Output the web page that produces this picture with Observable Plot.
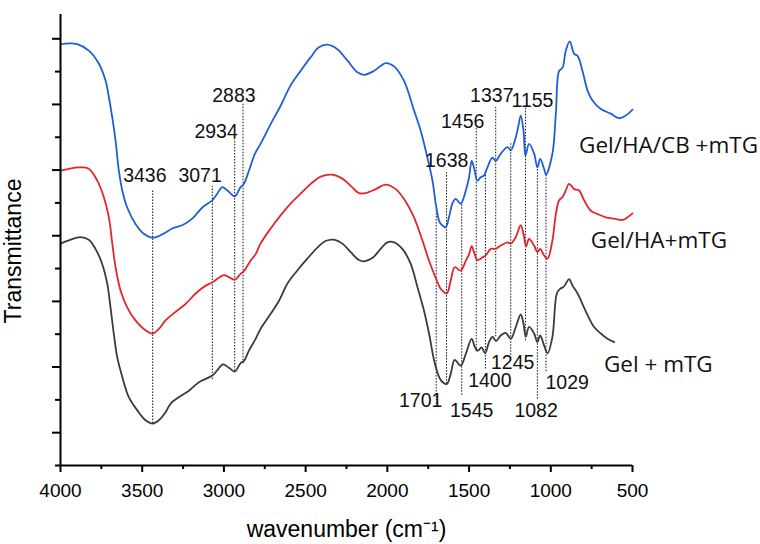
<!DOCTYPE html>
<html><head><meta charset="utf-8">
<script src="https://cdn.jsdelivr.net/npm/d3@7"></script>
<script src="https://cdn.jsdelivr.net/npm/@observablehq/plot@0.6"></script>
<style>body{margin:0;background:#fff}</style>
</head><body><div id="chart"></div>
<script>
// Series: [wavenumber (cm-1), transmittance (a.u., offset)]
const gelHaCbMtg = [[4000,5.92],[3898,5.92],[3827,5.82],[3765,5.62],[3724,5.36],[3704,5.11],[3683,4.80],[3663,4.45],[3643,3.99],[3622,3.69],[3592,3.43],[3541,3.18],[3490,3.03],[3436,2.97],[3377,3.02],[3316,3.11],[3255,3.16],[3194,3.26],[3132,3.43],[3071,3.54],[3041,3.64],[3010,3.74],[2979,3.69],[2934,3.60],[2898,3.74],[2878,3.79],[2847,3.99],[2810,4.25],[2776,4.40],[2714,4.70],[2653,4.98],[2592,5.29],[2531,5.51],[2469,5.72],[2419,5.87],[2367,5.91],[2306,5.84],[2245,5.67],[2183,5.49],[2143,5.45],[2082,5.51],[2010,5.63],[1959,5.58],[1898,5.36],[1837,4.91],[1796,4.60],[1755,4.19],[1724,3.84],[1704,3.49],[1684,3.23],[1673,3.18],[1643,3.13],[1623,3.28],[1602,3.49],[1582,3.56],[1551,3.49],[1520,3.69],[1500,3.89],[1484,4.14],[1470,4.04],[1449,3.84],[1429,3.89],[1408,3.92],[1388,4.04],[1357,4.19],[1337,4.14],[1306,4.25],[1265,4.35],[1245,4.30],[1214,4.50],[1200,4.65],[1184,4.83],[1167,4.60],[1155,4.22],[1133,4.40],[1102,4.25],[1082,4.04],[1065,4.17],[1041,4.02],[1029,3.93],[990,4.25],[969,4.86],[949,5.51],[928,5.56],[908,5.82],[884,5.96],[857,5.77],[836,5.74],[806,5.51],[775,5.21],[745,5.06],[694,4.93],[633,4.86],[582,4.79],[541,4.83],[500,4.92]];
const gelHaMtg = [[4000,3.99],[3949,4.02],[3878,4.04],[3827,4.02],[3775,3.84],[3735,3.59],[3704,3.28],[3683,2.88],[3663,2.52],[3633,2.17],[3592,1.91],[3541,1.71],[3480,1.56],[3436,1.51],[3398,1.58],[3357,1.71],[3296,1.84],[3235,1.96],[3173,2.12],[3112,2.24],[3071,2.29],[3031,2.36],[3000,2.40],[2970,2.37],[2934,2.33],[2898,2.42],[2878,2.46],[2837,2.62],[2806,2.72],[2776,2.88],[2714,3.11],[2653,3.31],[2592,3.49],[2531,3.64],[2469,3.79],[2408,3.90],[2337,3.93],[2275,3.87],[2224,3.76],[2174,3.65],[2133,3.65],[2071,3.71],[2010,3.78],[1949,3.71],[1898,3.56],[1837,3.28],[1786,2.93],[1745,2.62],[1714,2.42],[1684,2.24],[1673,2.19],[1637,2.12],[1612,2.32],[1588,2.52],[1551,2.47],[1520,2.62],[1500,2.72],[1484,2.84],[1470,2.75],[1449,2.63],[1418,2.67],[1398,2.70],[1367,2.80],[1337,2.80],[1306,2.85],[1265,2.90],[1245,2.88],[1214,2.98],[1184,3.16],[1167,3.03],[1151,2.84],[1133,2.95],[1102,2.85],[1082,2.75],[1065,2.80],[1041,2.70],[1020,2.65],[990,2.93],[969,3.33],[949,3.54],[928,3.59],[908,3.69],[888,3.79],[857,3.71],[827,3.69],[796,3.54],[755,3.38],[714,3.33],[663,3.28],[612,3.26],[561,3.24],[530,3.28],[500,3.34]];
const gelMtg = [[4000,2.88],[3949,2.93],[3878,2.98],[3827,2.94],[3786,2.80],[3745,2.57],[3714,2.27],[3694,1.91],[3674,1.51],[3653,1.15],[3622,0.85],[3582,0.54],[3530,0.34],[3480,0.19],[3436,0.14],[3398,0.19],[3357,0.31],[3327,0.44],[3276,0.54],[3214,0.64],[3153,0.77],[3071,0.87],[3041,0.95],[3006,1.04],[2970,0.99],[2934,0.93],[2898,1.06],[2878,1.09],[2847,1.25],[2806,1.43],[2776,1.58],[2714,1.81],[2663,2.01],[2612,2.27],[2551,2.47],[2490,2.65],[2428,2.82],[2378,2.92],[2327,2.94],[2275,2.88],[2224,2.75],[2174,2.63],[2143,2.61],[2092,2.66],[2041,2.80],[2000,2.90],[1959,2.90],[1908,2.80],[1857,2.57],[1816,2.22],[1776,1.86],[1745,1.51],[1714,1.10],[1694,0.92],[1673,0.80],[1637,0.74],[1612,0.90],[1588,1.11],[1551,1.02],[1520,1.20],[1484,1.43],[1464,1.30],[1445,1.25],[1424,1.30],[1402,1.21],[1378,1.38],[1357,1.46],[1335,1.40],[1306,1.48],[1276,1.52],[1245,1.43],[1214,1.61],[1184,1.80],[1167,1.66],[1153,1.46],[1133,1.61],[1102,1.51],[1082,1.38],[1065,1.48],[1041,1.33],[1020,1.21],[990,1.46],[963,2.12],[943,2.19],[922,2.22],[908,2.27],[888,2.34],[867,2.24],[836,2.12],[806,1.96],[775,1.79],[735,1.61],[694,1.51],[653,1.43],[612,1.38]];

const seriesNames = ["Gel/HA/CB +mTG", "Gel/HA+mTG", "Gel + mTG"];
const seriesColors = ["#1f5fd3", "#e2262b", "#3b3b3b"];
const seriesLabelWn = [827, 755, 675];
const seriesLabelT = [4.37, 2.93, 1.03];

// Peak assignments (cm-1), marker span in transmittance units, label anchor
const peakWn = [3436, 3071, 2934, 2883, 1701, 1638, 1545, 1456, 1400, 1337, 1245, 1155, 1082, 1029];
const peakTop = [3.70, 3.75, 4.50, 5.01, 3.38, 3.96, 3.49, 4.65, 3.92, 4.97, 4.42, 4.97, 4.04, 3.93];
const peakBottom = [0.14, 0.81, 0.94, 1.05, 0.39, 0.74, 0.57, 1.23, 0.97, 1.46, 1.18, 1.40, 0.51, 0.93];
const peakLabelWn = [3484, 3146, 3048, 2939, 1796, 1637, 1484, 1539, 1373, 1361, 1233, 1112, 1090, 900];
const peakLabelT = [3.91, 3.91, 4.59, 5.13, 0.48, 4.14, 0.33, 4.73, 0.79, 5.13, 1.07, 5.05, 0.33, 0.76];

const xMajorTicks = [4000, 3500, 3000, 2500, 2000, 1500, 1000, 500];
const xMinorTicks = [3750, 3250, 2750, 2250, 1750, 1250, 750];
const yMajorTicks = [0, 1, 2, 3, 4, 5, 6];
const yMinorTicks = [-0.5, 0.5, 1.5, 2.5, 3.5, 4.5, 5.5];

const series = [gelHaCbMtg, gelHaMtg, gelMtg];
const lineData = series.flatMap((s, k) => s.map(([wn, t]) => ({wn, t, k})));
const peakIdx = peakWn.map((_, i) => i);
const seriesIdx = seriesNames.map((_, i) => i);
const arial = "'Liberation Sans', Arial, sans-serif";

const chart = Plot.plot({
  width: 760, height: 544,
  marginLeft: 60, marginRight: 128, marginTop: 14, marginBottom: 79,
  x: {domain: [4000, 500], axis: null},
  y: {domain: [-0.5, 6.37], axis: null},
  style: {fontFamily: arial, background: "#fff", color: "#000", overflow: "visible"},
  marks: [
    Plot.ruleX(peakIdx, {x: i => peakWn[i], y1: i => peakBottom[i], y2: i => peakTop[i], stroke: "#111", strokeWidth: 1, strokeDasharray: "1.5,1.5"}),
    Plot.line(lineData, {x: "wn", y: "t", z: "k", stroke: d => seriesColors[d.k], strokeWidth: 1.8, curve: "catmull-rom"}),
    Plot.text(peakIdx, {x: i => peakLabelWn[i], y: i => peakLabelT[i], text: i => String(peakWn[i]), fontSize: 19.5, fontFamily: arial, fill: "#111"}),
    Plot.text(seriesIdx, {x: i => seriesLabelWn[i], y: i => seriesLabelT[i], text: i => seriesNames[i], textAnchor: "start", fontSize: 22.5, fontFamily: "'Open Sans', sans-serif", fill: "#111"}),
    Plot.axisX(xMajorTicks, {tickSize: 7, strokeWidth: 2, fontSize: 19, fontFamily: arial, tickPadding: 11, tickFormat: d => String(d), label: null}),
    Plot.axisX(xMinorTicks, {tickSize: 4, strokeWidth: 2, tickFormat: () => "", label: null}),
    Plot.axisY(yMajorTicks, {tickSize: 8, strokeWidth: 2, tickFormat: () => "", label: null}),
    Plot.axisY(yMinorTicks, {tickSize: 5, strokeWidth: 2, tickFormat: () => "", label: null}),
    Plot.ruleY([-0.5], {strokeWidth: 2}),
    Plot.ruleX([4000], {strokeWidth: 2}),
    Plot.text(["wavenumber (cm\u207B\u00B9)"], {frameAnchor: "bottom", textAnchor: "middle", lineAnchor: "middle", dy: 64, fontSize: 23, fontFamily: arial}),
    Plot.text(["Transmittance"], {frameAnchor: "left", textAnchor: "middle", lineAnchor: "middle", rotate: -90, dx: -47, dy: 11, fontSize: 23, fontFamily: arial})
  ]
});
document.getElementById("chart").appendChild(chart);
</script>
</body></html>
